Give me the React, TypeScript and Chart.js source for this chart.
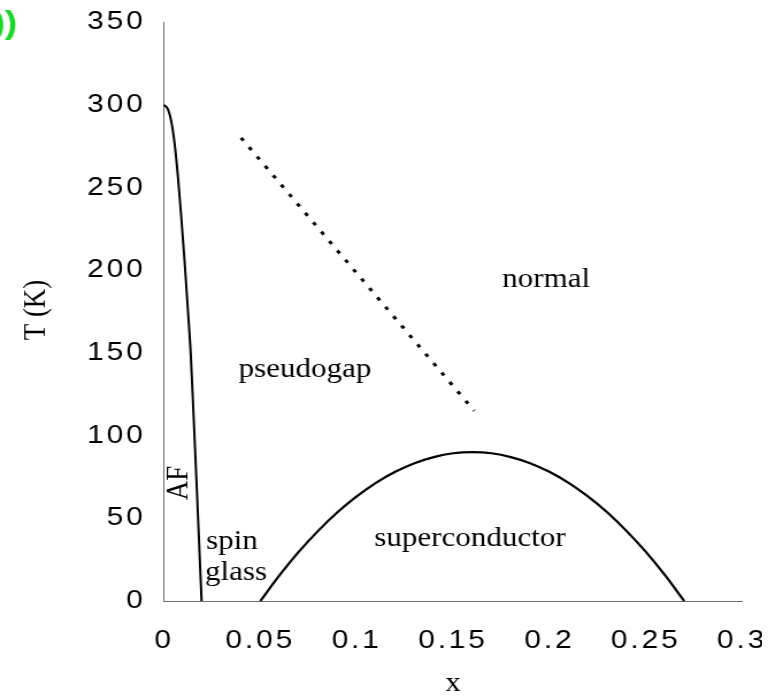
import React, { useEffect, useRef } from 'react';
import { Chart, registerables } from 'chart.js';

Chart.register(...registerables);

// ---- data ----
const xTickValues = [0, 0.05, 0.1, 0.15, 0.2, 0.25, 0.3];
const xTickLabels = ['0', '0.05', '0.1', '0.15', '0.2', '0.25', '0.3'];
const yTickValues = [0, 50, 100, 150, 200, 250, 300, 350];
const yTickLabels = ['0', '50', '100', '150', '200', '250', '300', '350'];

// antiferromagnetic (AF) boundary
const afX = [0, 0.0021, 0.0038, 0.0056, 0.0073, 0.009, 0.0107, 0.0124, 0.0139, 0.0153, 0.0168, 0.0182, 0.0195];
const afT = [300, 297, 289.7, 275.6, 255.5, 231.3, 205, 176, 148.7, 113, 74, 36, 0];

// superconducting dome
const scX = [0.05, 0.06, 0.07, 0.08, 0.09, 0.1, 0.11, 0.12, 0.13, 0.14, 0.15, 0.16, 0.17, 0.18, 0.19, 0.2, 0.21, 0.22, 0.23, 0.24, 0.25, 0.26, 0.27];
const scT = [0, 15.6, 29.8, 42.4, 53.6, 63.2, 71.4, 78.1, 83.3, 87.0, 89.3, 90, 89.3, 87.0, 83.3, 78.1, 71.4, 63.2, 53.6, 42.4, 29.8, 15.6, 0];

// pseudogap crossover (dotted)
const pgX = [0.04, 0.161];
const pgT = [280, 115];

// region labels (text, x, T)
const regionText = ['normal', 'pseudogap', 'superconductor', 'spin', 'glass'];
const regionX = [0.1983, 0.0732, 0.1588, 0.0218, 0.0213];
const regionT = [189.8, 135.4, 33.2, 31.4, 12.7];
const regionAlign = ['center', 'center', 'center', 'left', 'left'];
const afLabel = 'AF';
const afLabelX = 0.0119;
const afLabelT = 71.3;

const xTitle = 'x';
const yTitle = 'T (K)';
const cornerText = '))';

// ---- layout ----
const W = 783;
const H = 698;
const CW = 681;
const S = W / CW;
const VISIBLE_W = 762;
const SANS = '"Liberation Sans", Arial, Helvetica, sans-serif';
const SERIF = '"Liberation Serif", "Times New Roman", Times, serif';

const pts = (xs: number[], ys: number[]) => xs.map((x, i) => ({ x, y: ys[i] }));

const annotate = {
  id: 'annotate',
  beforeDraw(chart: any) {
    chart.ctx.letterSpacing = '2.5px';
  },
  afterDraw(chart: any) {
    const { ctx, scales, chartArea } = chart;
    const xs = scales.x;
    const ys = scales.y;
    ctx.save();
    ctx.letterSpacing = '0px';
    ctx.fillStyle = '#000';
    ctx.font = `27px ${SERIF}`;
    ctx.textBaseline = 'alphabetic';
    regionText.forEach((t, i) => {
      ctx.textAlign = regionAlign[i];
      ctx.fillText(t, xs.getPixelForValue(regionX[i]), ys.getPixelForValue(regionT[i]));
    });
    // AF rotated
    ctx.save();
    ctx.translate(xs.getPixelForValue(afLabelX), ys.getPixelForValue(afLabelT));
    ctx.rotate(-Math.PI / 2);
    ctx.textAlign = 'center';
    ctx.fillText(afLabel, 0, 0);
    ctx.restore();
    // axis titles
    ctx.textAlign = 'center';
    ctx.fillText(xTitle, (chartArea.left + chartArea.right) / 2, 691);
    ctx.save();
    ctx.translate(39, 310);
    ctx.rotate(-Math.PI / 2);
    ctx.fillText(yTitle, 0, 0);
    ctx.restore();
    // corner green text
    ctx.font = `bold 32px ${SANS}`;
    ctx.fillStyle = '#14dc20';
    ctx.textAlign = 'right';
    ctx.fillText(cornerText, 15, 33);
    ctx.restore();
  },
};

export default function App() {
  const ref = useRef<HTMLCanvasElement>(null);
  useEffect(() => {
    const canvas = ref.current;
    if (!canvas) return;
    const chart = new Chart(canvas, {
      type: 'scatter',
      data: {
        datasets: [
          {
            label: 'AF',
            data: pts(afX, afT),
            showLine: true,
            borderColor: '#000',
            borderWidth: 2,
            pointRadius: 0,
            cubicInterpolationMode: 'monotone',
            clip: false,
          },
          {
            label: 'superconductor',
            data: pts(scX, scT),
            showLine: true,
            borderColor: '#000',
            borderWidth: 2.2,
            pointRadius: 0,
            cubicInterpolationMode: 'monotone',
            clip: false,
          },
          {
            label: 'pseudogap',
            data: pts(pgX, pgT),
            showLine: true,
            borderColor: '#000',
            borderWidth: 3,
            borderDash: [3.5, 8.2],
            pointRadius: 0,
            clip: false,
          },
        ],
      } as any,
      options: {
        animation: false,
        responsive: false,
        maintainAspectRatio: false,
        events: [],
        layout: { padding: { top: 22, right: CW - 742 / S, bottom: 0, left: 0 } },
        plugins: {
          legend: { display: false },
          tooltip: { enabled: false },
        },
        scales: {
          x: {
            type: 'linear',
            min: 0,
            max: 0.3,
            grid: { display: false, drawTicks: false },
            border: { display: true, color: '#6b6b6b', width: 1 },
            ticks: {
              padding: 24,
              color: '#000',
              font: { family: SANS, size: 26 },
              maxRotation: 0,
              autoSkip: false,
              callback: (_v: any, i: number) => xTickLabels[i],
            },
            afterBuildTicks: (scale: any) => {
              scale.ticks = xTickValues.map((v) => ({ value: v }));
            },
            afterFit: (scale: any) => {
              scale.height = H - 601;
              scale.paddingLeft = 0;
              scale.paddingRight = 0;
            },
          },
          y: {
            type: 'linear',
            min: 0,
            max: 350,
            grid: { display: false, drawTicks: false },
            border: { display: true, color: '#6b6b6b', width: 1 },
            ticks: {
              padding: 16,
              color: '#000',
              font: { family: SANS, size: 26 },
              autoSkip: false,
              callback: (_v: any, i: number) => yTickLabels[i],
            },
            afterBuildTicks: (scale: any) => {
              scale.ticks = yTickValues.map((v) => ({ value: v }));
            },
            afterFit: (scale: any) => {
              scale.width = 164 / S;
              scale.paddingTop = 0;
              scale.paddingBottom = 0;
            },
          },
        },
      } as any,
      plugins: [annotate],
    });
    return () => chart.destroy();
  }, []);

  return (
    <div
      style={{
        position: 'absolute',
        left: 0,
        top: 0,
        width: W,
        height: H,
        background: '#fff',
      }}
    >
      <div style={{ width: VISIBLE_W, height: H, overflow: 'hidden' }}>
        <canvas
          ref={ref}
          width={CW}
          height={H}
          style={{
            display: 'block',
            width: CW,
            height: H,
            transform: `scaleX(${S})`,
            transformOrigin: '0 0',
          }}
        />
      </div>
    </div>
  );
}
